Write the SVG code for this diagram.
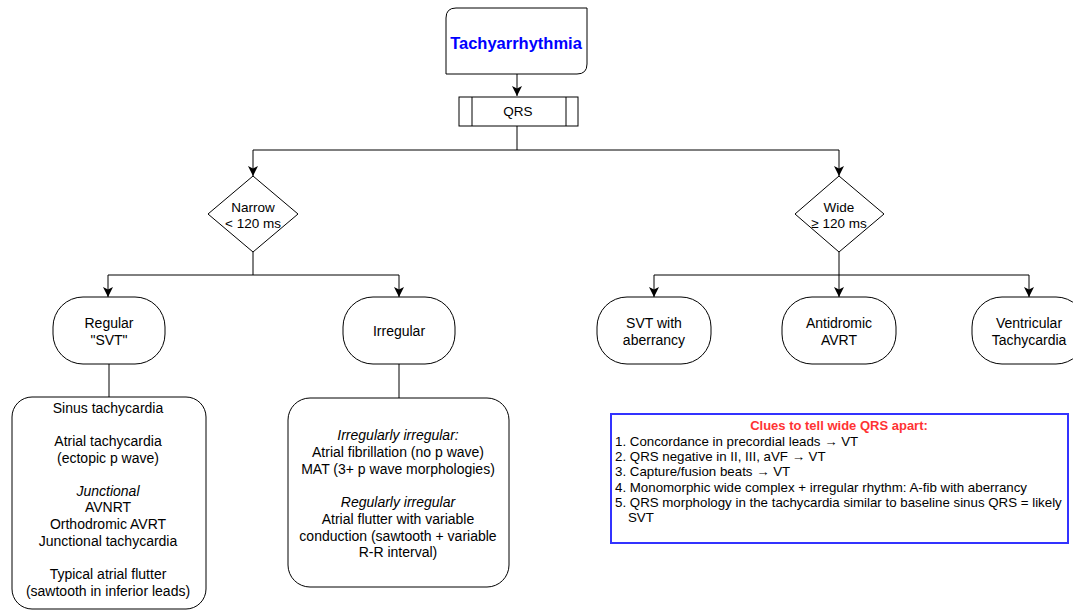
<svg xmlns="http://www.w3.org/2000/svg" width="1073" height="611" viewBox="0 0 1073 611">
<style>
.n{fill:#fff;stroke:#000;stroke-width:1}
.t{font-family:"Liberation Sans",Arial,sans-serif;font-size:14px;fill:#000;text-anchor:middle}
.d{font-size:13.5px}
.c{stroke:#000;stroke-width:1;fill:none}
.ca{stroke:#000;stroke-width:1;fill:none;marker-end:url(#ah)}
.l{font-family:"Liberation Sans",Arial,sans-serif;font-size:13.3px;fill:#000}
.h{fill:#ff3333;font-weight:bold;text-anchor:middle;font-size:13px}
</style>
<defs>
<marker id="ah" viewBox="0 0 10 10" refX="10" refY="5" markerWidth="10" markerHeight="10" markerUnits="userSpaceOnUse" orient="auto">
<path d="M0,0 L10,5 L0,10 L2.5,5 Z" fill="#000"/>
</marker>
</defs>
<rect width="1073" height="611" fill="#fff"/>
<g id="connectors">
<path class="ca" d="M517,74 V96"/>
<path class="c" d="M517,126 V150 M253,150 H839"/>
<path class="ca" d="M253,150 V176"/>
<path class="ca" d="M839,150 V176"/>
<path class="c" d="M253,252 V275 M108,275 H399"/>
<path class="ca" d="M108,275 V297"/>
<path class="ca" d="M399,275 V297"/>
<path class="c" d="M839,252 V275 M654,275 H1029"/>
<path class="ca" d="M654,275 V297"/>
<path class="ca" d="M839,275 V297"/>
<path class="ca" d="M1029,275 V297"/>
<path class="c" d="M109,364 V397"/>
<path class="c" d="M399,364 V398"/>
</g>
<g id="tachy">
<path class="n" d="M456,8 H587 V64 Q587,74 577,74 H446 V18 Q446,8 456,8 Z"/>
<text class="t" x="516" y="49" style="font-weight:bold;font-size:16.5px;fill:#0000ff">Tachyarrhythmia</text>
</g>
<g id="qrs">
<rect class="n" x="459" y="97" width="119" height="29"/>
<path class="c" d="M472,97 V126 M566,97 V126"/>
<text class="t d" x="518" y="116">QRS</text>
</g>
<g id="narrow">
<path class="n" d="M253,176 L298,214 L253,252 L208,214 Z"/>
<text class="t d" x="253" y="212">Narrow</text>
<text class="t d" x="253" y="228">&lt; 120 ms</text>
</g>
<g id="wide">
<path class="n" d="M839,176 L884,214 L839,252 L795,214 Z"/>
<text class="t d" x="839" y="212">Wide</text>
<text class="t d" x="839" y="228">≥ 120 ms</text>
</g>
<g id="regular">
<rect class="n" x="53" y="297" width="112" height="67" rx="30" ry="30"/>
<text class="t" x="109" y="328">Regular</text>
<text class="t" x="109" y="345">"SVT"</text>
</g>
<g id="irregular">
<rect class="n" x="343" y="297" width="112" height="67" rx="30" ry="30"/>
<text class="t" x="399" y="336">Irregular</text>
</g>
<g id="svtab">
<rect class="n" x="597" y="297" width="114" height="67" rx="30" ry="30"/>
<text class="t" x="654" y="328">SVT with</text>
<text class="t" x="654" y="345">aberrancy</text>
</g>
<g id="antidromic">
<rect class="n" x="782" y="297" width="114" height="67" rx="30" ry="30"/>
<text class="t" x="839" y="328">Antidromic</text>
<text class="t" x="839" y="345">AVRT</text>
</g>
<g id="vt">
<rect class="n" x="972" y="297" width="114" height="67" rx="30" ry="30"/>
<text class="t" x="1029" y="328">Ventricular</text>
<text class="t" x="1029" y="345">Tachycardia</text>
</g>
<g id="regularlist">
<rect class="n" x="12" y="397" width="194" height="212" rx="20" ry="20"/>
<text class="t" x="108" y="413">Sinus tachycardia</text>
<text class="t" x="108" y="446">Atrial tachycardia</text>
<text class="t" x="108" y="463">(ectopic p wave)</text>
<text class="t" x="108" y="496" font-style="italic">Junctional</text>
<text class="t" x="108" y="512">AVNRT</text>
<text class="t" x="108" y="529">Orthodromic AVRT</text>
<text class="t" x="108" y="546">Junctional tachycardia</text>
<text class="t" x="108" y="579">Typical atrial flutter</text>
<text class="t" x="108" y="596">(sawtooth in inferior leads)</text>
</g>
<g id="irregularlist">
<rect class="n" x="288" y="398" width="221" height="189" rx="22" ry="22"/>
<text class="t" x="398" y="440" font-style="italic">Irregularly irregular:</text>
<text class="t" x="398" y="457">Atrial fibrillation (no p wave)</text>
<text class="t" x="398" y="474">MAT (3+ p wave morphologies)</text>
<text class="t" x="398" y="507" font-style="italic">Regularly irregular</text>
<text class="t" x="398" y="524">Atrial flutter with variable</text>
<text class="t" x="398" y="541">conduction (sawtooth + variable</text>
<text class="t" x="398" y="557">R-R interval)</text>
</g>
<g id="clues">
<rect x="611" y="414" width="457" height="129" fill="#fff" stroke="#3333ff" stroke-width="2"/>
<text class="l h" x="839" y="430">Clues to tell wide QRS apart:</text>
<text class="l" x="615" y="446">1. Concordance in precordial leads → VT</text>
<text class="l" x="615" y="461">2. QRS negative in II, III, aVF → VT</text>
<text class="l" x="615" y="476">3. Capture/fusion beats → VT</text>
<text class="l" x="615" y="492">4. Monomorphic wide complex + irregular rhythm: A-fib with aberrancy</text>
<text class="l" x="615" y="507">5. QRS morphology in the tachycardia similar to baseline sinus QRS = likely</text>
<text class="l" x="628" y="522">SVT</text>
</g>
</svg>
